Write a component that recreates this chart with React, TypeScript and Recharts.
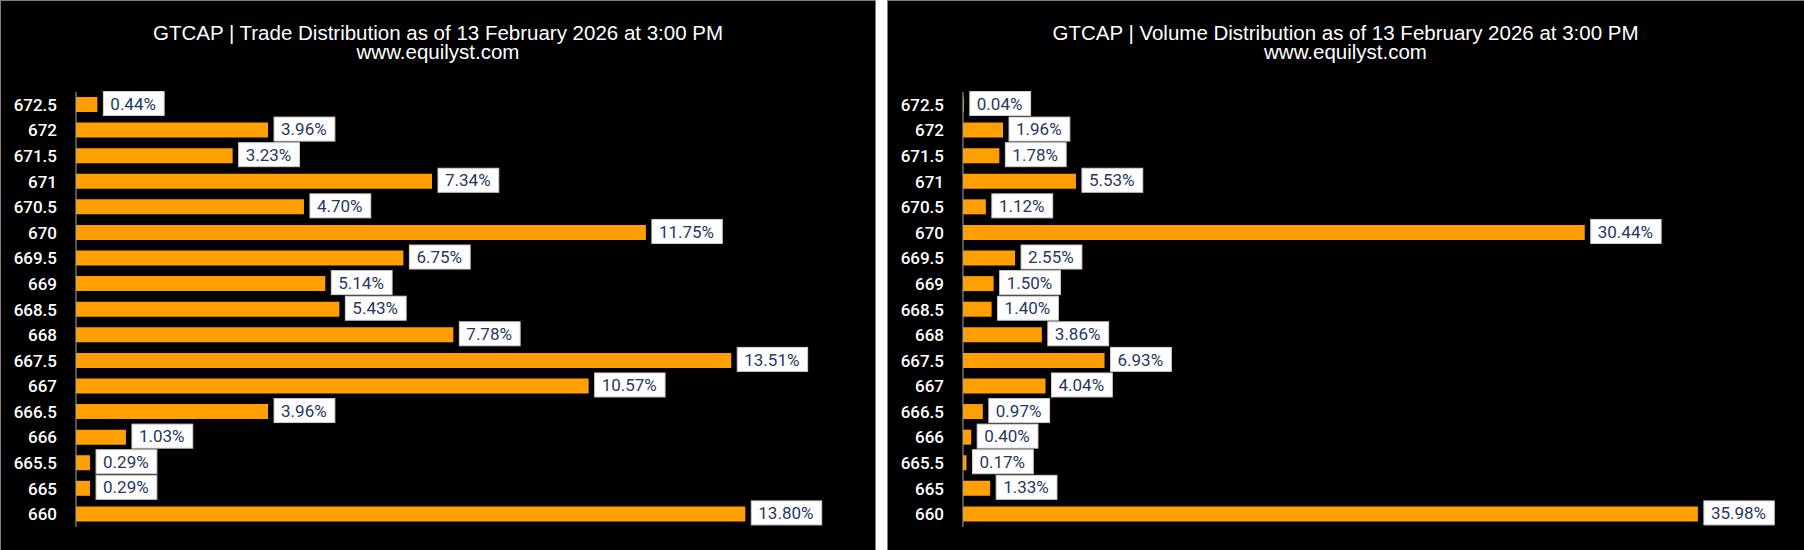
import React from "react";
import { BarChart, Bar, XAxis, YAxis, LabelList } from "recharts";

// price levels, top to bottom as drawn
const priceLevels = [
  "672.5", "672", "671.5", "671", "670.5", "670", "669.5", "669", "668.5",
  "668", "667.5", "667", "666.5", "666", "665.5", "665", "660",
];

// % of trades at each price
const tradeShare = [
  0.44, 3.96, 3.23, 7.34, 4.7, 11.75, 6.75, 5.14, 5.43,
  7.78, 13.51, 10.57, 3.96, 1.03, 0.29, 0.29, 13.8,
];

// % of volume at each price
const volumeShare = [
  0.04, 1.96, 1.78, 5.53, 1.12, 30.44, 2.55, 1.5, 1.4,
  3.86, 6.93, 4.04, 0.97, 0.4, 0.17, 1.33, 35.98,
];

const tradeRows = priceLevels.map((level, i) => ({ level, value: tradeShare[i] }));
const volumeRows = priceLevels.map((level, i) => ({ level, value: volumeShare[i] }));

const BAR = "#FFA000";
const LABEL_FONT = "Roboto, 'Open Sans', sans-serif";

function BoxLabel(props: any) {
  const { x, y, width, height, value } = props;
  const text = Number(value).toFixed(2) + "%";
  const digits = text.replace(/[^0-9]/g, "").length;
  const w = 15 + digits * 9.6 + 4 + 13;
  const bx = Number(x) + Number(width) + 6;
  const cy = Number(y) + Number(height) / 2 - 1;
  return (
    <g>
      <rect x={bx} y={cy - 12} width={w} height={24} fill="#fff" stroke="#cfcfcf" strokeWidth={1} />
      <text
        x={bx + 7}
        y={cy}
        dy="0.36em"
        fill="#1F3864"
        fontSize={17}
        fontFamily={LABEL_FONT}
      >
        {text}
      </text>
    </g>
  );
}

function Panel({
  left,
  width,
  boxWidth,
  title,
  rows,
  max,
}: {
  left: number;
  width: number;
  boxWidth: number;
  title: string;
  rows: { level: string; value: number }[];
  max: number;
}) {
  return (
    <>
      <div
        style={{
          position: "absolute",
          left,
          top: 0,
          width: boxWidth,
          height: 570,
          background: "#000",
          border: "1px solid #7f7f7f",
          boxSizing: "border-box",
        }}
      />
      <svg
        width={width}
        height={80}
        style={{ position: "absolute", left, top: 0 }}
      >
        <text
          x={width / 2}
          y={39.5}
          textAnchor="middle"
          fill="#fff"
          fontSize={20.5}
          fontFamily="'Liberation Sans', Arial, sans-serif"
        >
          {title}
        </text>
        <text
          x={width / 2}
          y={59}
          textAnchor="middle"
          fill="#fff"
          fontSize={20.5}
          fontFamily="'Liberation Sans', Arial, sans-serif"
        >
          www.equilyst.com
        </text>
      </svg>
      <div style={{ position: "absolute", left, top: 0 }}>
        <BarChart
          width={width}
          height={550}
          data={rows}
          layout="vertical"
          margin={{ top: 92, right: 24, bottom: 23, left: 0 }}
        >
          <XAxis type="number" domain={[0, max]} hide />
          <YAxis
            type="category"
            dataKey="level"
            width={76}
            tickLine={false}
            tickSize={0}
            tickMargin={19}
            axisLine={{ stroke: "#a6a6a6", strokeWidth: 1 }}
            tick={{ fill: "#fff", fontSize: 17, fontWeight: 500, fontFamily: LABEL_FONT }}
            interval={0}
          />
          <Bar dataKey="value" fill={BAR} barSize={15} isAnimationActive={false}>
            <LabelList dataKey="value" content={BoxLabel} />
          </Bar>
        </BarChart>
      </div>
    </>
  );
}

export default function App() {
  return (
    <div
      style={{
        position: "absolute",
        left: 0,
        top: 0,
        width: 1804,
        height: 550,
        overflow: "hidden",
        background: "#fff",
      }}
    >
      <Panel
        left={0}
        width={876}
        boxWidth={876}
        title="GTCAP | Trade Distribution as of 13 February 2026 at 3:00 PM"
        rows={tradeRows}
        max={16}
      />
      <Panel
        left={887}
        width={917}
        boxWidth={960}
        title="GTCAP | Volume Distribution as of 13 February 2026 at 3:00 PM"
        rows={volumeRows}
        max={40}
      />
    </div>
  );
}
